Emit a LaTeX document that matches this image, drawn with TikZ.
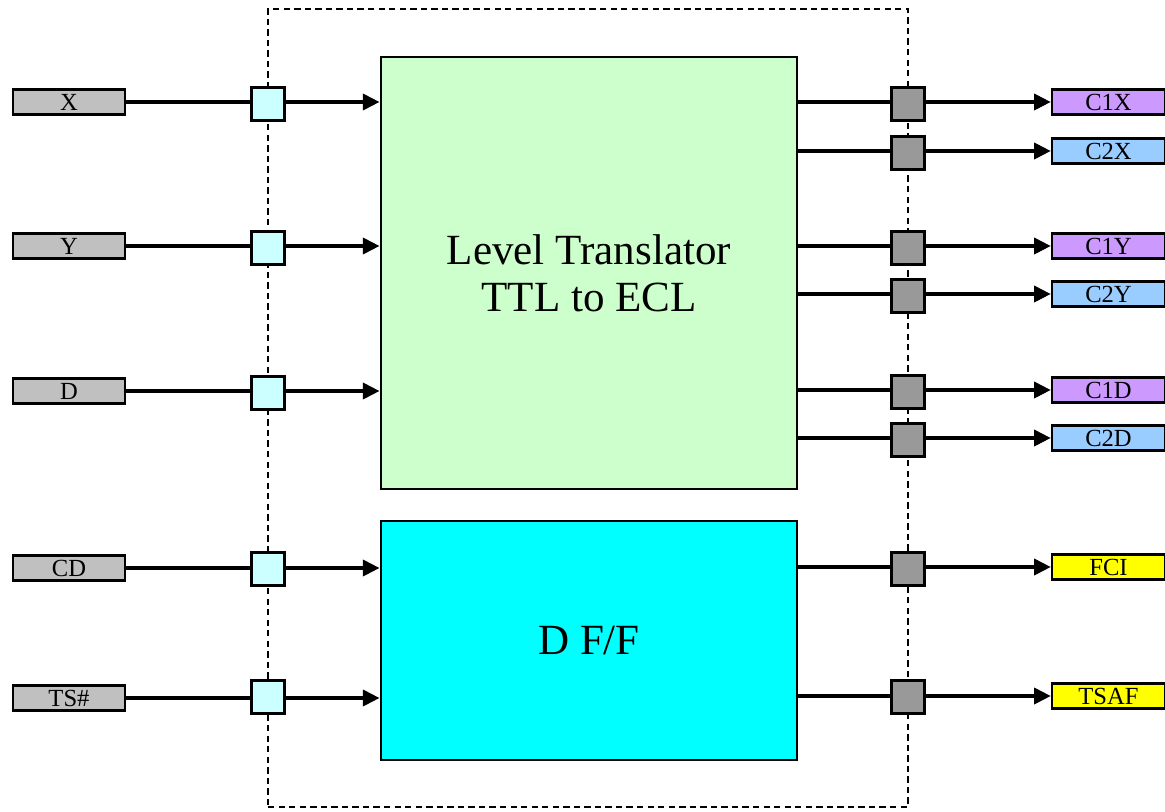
\documentclass[tikz,border=0pt]{standalone}
\usepackage{fontspec}
\setmainfont{Liberation Serif}
\usetikzlibrary{arrows.meta,positioning,calc}
\definecolor{colEntree}{RGB}{192,192,192}
\definecolor{colPlot}{RGB}{204,255,255}
\definecolor{colSortie}{RGB}{153,153,153}
\definecolor{colNiveau}{RGB}{204,255,204}
\definecolor{colBascule}{RGB}{0,255,255}
\definecolor{colViolet}{RGB}{204,153,255}
\definecolor{colBleu}{RGB}{153,204,255}
\definecolor{colJaune}{RGB}{255,255,0}

\begin{document}
\begin{tikzpicture}[x=0.02cm, y=-0.02cm,
    font=\fontsize{14}{16}\selectfont,
    sig/.style={rectangle, draw, line width=1.3pt, inner sep=0pt,
      minimum width=2.24cm, minimum height=0.5cm},
    pad/.style={rectangle, draw, line width=1.3pt, inner sep=0pt,
      minimum size=0.66cm},
    blk/.style={rectangle, draw, line width=1.6pt, inner sep=0pt,
      minimum width=8.32cm, align=center,
      font=\fontsize{24.5}{27}\selectfont},
    ln/.style={line width=2.2pt},
    fl/.style={line width=2.2pt, -{Triangle[length=9.5pt, width=9pt]}}]
    \useasboundingbox (0,0) rectangle (1165,811);
    % boitier
    \node[draw, dashed, line width=1pt, dash pattern=on 3.6pt off 2.4pt,
      minimum width=12.8cm, minimum height=15.96cm] (frame) at (588,408) {};
    \node[blk, fill=colNiveau, minimum height=8.64cm] (lt) at (589,273)
      {Level Translator\\TTL to ECL};
    \node[blk, fill=colBascule, minimum height=4.78cm] (dff) at (589,640.5)
      {D F/F};
    % entrees
    \node[sig, fill=colEntree] (iX) at (69,102) {X};
    \node[sig, fill=colEntree] (iY) at (69,246) {Y};
    \node[sig, fill=colEntree] (iD) at (69,391) {D};
    \node[sig, fill=colEntree] (iCD) at (69,568) {CD};
    \node[sig, fill=colEntree] (iTS) at (69,698) {TS\#};
    \node[pad, fill=colPlot] (pX) at (268,104) {};
    \node[pad, fill=colPlot] (pY) at (268,248) {};
    \node[pad, fill=colPlot] (pD) at (268,393) {};
    \node[pad, fill=colPlot] (pCD) at (268,569) {};
    \node[pad, fill=colPlot] (pTS) at (268,697) {};
    \draw[ln] (iX) -- (iX -| pX.west); \draw[fl] (iX -| pX.east) -- (iX -| lt.west);
    \draw[ln] (iY) -- (iY -| pY.west); \draw[fl] (iY -| pY.east) -- (iY -| lt.west);
    \draw[ln] (iD) -- (iD -| pD.west); \draw[fl] (iD -| pD.east) -- (iD -| lt.west);
    \draw[ln] (iCD) -- (iCD -| pCD.west); \draw[fl] (iCD -| pCD.east) -- (iCD -| dff.west);
    \draw[ln] (iTS) -- (iTS -| pTS.west); \draw[fl] (iTS -| pTS.east) -- (iTS -| dff.west);
    % sorties
    \node[sig, fill=colViolet, minimum width=2.26cm] (oC1X) at (1108.5,102) {C1X};
    \node[sig, fill=colBleu, minimum width=2.26cm] (oC2X) at (1108.5,151) {C2X};
    \node[sig, fill=colViolet, minimum width=2.26cm] (oC1Y) at (1108.5,246) {C1Y};
    \node[sig, fill=colBleu, minimum width=2.26cm] (oC2Y) at (1108.5,294) {C2Y};
    \node[sig, fill=colViolet, minimum width=2.26cm] (oC1D) at (1108.5,390) {C1D};
    \node[sig, fill=colBleu, minimum width=2.26cm] (oC2D) at (1108.5,438) {C2D};
    \node[sig, fill=colJaune, minimum width=2.26cm] (oFCI) at (1108.5,567) {FCI};
    \node[sig, fill=colJaune, minimum width=2.26cm] (oTSAF) at (1108.5,696) {TSAF};
    \node[pad, fill=colSortie] (qC1X) at (908,104) {};
    \node[pad, fill=colSortie] (qC2X) at (908,153) {};
    \node[pad, fill=colSortie] (qC1Y) at (908,248) {};
    \node[pad, fill=colSortie] (qC2Y) at (908,296) {};
    \node[pad, fill=colSortie] (qC1D) at (908,392) {};
    \node[pad, fill=colSortie] (qC2D) at (908,440) {};
    \node[pad, fill=colSortie] (qFCI) at (908,569) {};
    \node[pad, fill=colSortie] (qTSAF) at (908,697) {};
    \draw[ln] (oC1X -| lt.east) -- (oC1X -| qC1X.west); \draw[fl] (oC1X -| qC1X.east) -- (oC1X);
    \draw[ln] (oC2X -| lt.east) -- (oC2X -| qC2X.west); \draw[fl] (oC2X -| qC2X.east) -- (oC2X);
    \draw[ln] (oC1Y -| lt.east) -- (oC1Y -| qC1Y.west); \draw[fl] (oC1Y -| qC1Y.east) -- (oC1Y);
    \draw[ln] (oC2Y -| lt.east) -- (oC2Y -| qC2Y.west); \draw[fl] (oC2Y -| qC2Y.east) -- (oC2Y);
    \draw[ln] (oC1D -| lt.east) -- (oC1D -| qC1D.west); \draw[fl] (oC1D -| qC1D.east) -- (oC1D);
    \draw[ln] (oC2D -| lt.east) -- (oC2D -| qC2D.west); \draw[fl] (oC2D -| qC2D.east) -- (oC2D);
    \draw[ln] (oFCI -| dff.east) -- (oFCI -| qFCI.west); \draw[fl] (oFCI -| qFCI.east) -- (oFCI);
    \draw[ln] (oTSAF -| dff.east) -- (oTSAF -| qTSAF.west); \draw[fl] (oTSAF -| qTSAF.east) -- (oTSAF);
  \end{tikzpicture}
\end{document}
